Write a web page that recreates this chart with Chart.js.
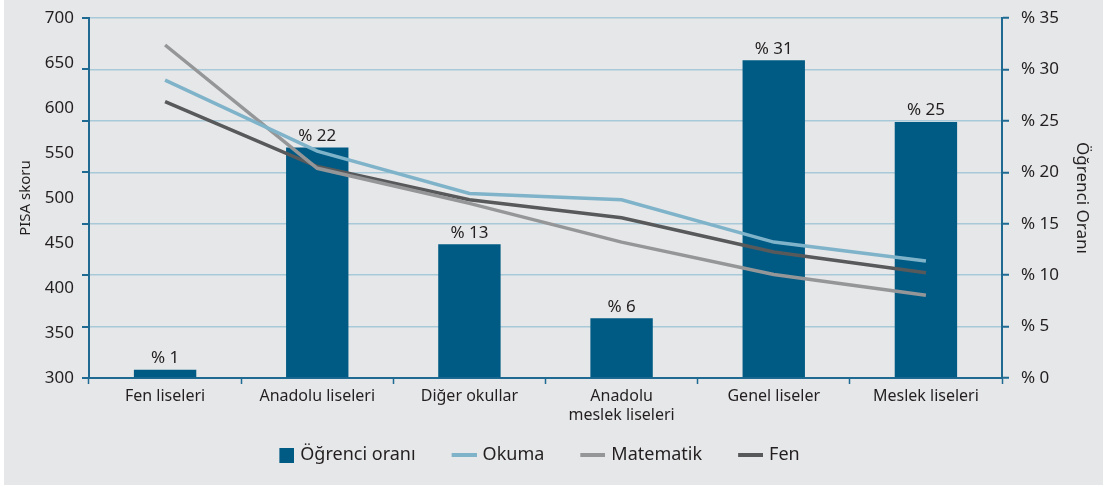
<!DOCTYPE html>
<html lang="tr">
<head>
<meta charset="UTF-8">
<title>PISA skoru ve öğrenci oranı</title>
<script src="https://cdn.jsdelivr.net/npm/chart.js"></script>
<style>
  body { margin: 0; background: #fff; }
  #kutu { position: absolute; left: 4px; top: 0; width: 1099px; height: 485px; background: #e6e7e9; }
</style>
</head>
<body>
<div id="kutu"><canvas id="pisaChart" width="1099" height="485"></canvas></div>
<script>
// okul türleri
const okulTurleri = ['Fen liseleri', 'Anadolu liseleri', 'Diğer okullar', ['Anadolu', 'meslek liseleri'], 'Genel liseler', 'Meslek liseleri'];
// öğrenci oranı (%)
const ogrenciOrani = [0.8, 22.4, 13.0, 5.8, 30.9, 24.9];
const oranEtiketleri = ['% 1', '% 22', '% 13', '% 6', '% 31', '% 25'];
// PISA skorları
const okuma = [631, 552, 505, 498, 451, 430];
const matematik = [670, 533, 494, 451, 415, 392];
const fen = [607, 535, 498, 478, 440, 417];

const eksenRengi = '#1f6a92';
const yaziRengi = '#231f20';
const yazi = 'Noto Sans';

// lejant simgesi: solu boş, sağa yaslı renkli parça
function ikon(w, h, renk) {
    const c = document.createElement('canvas');
    c.width = 46; c.height = h;
    const g = c.getContext('2d');
    g.fillStyle = renk;
    g.fillRect(46 - w, 0, w, h);
    return c;
}

// lejant yüksekliğini sabitle, biraz sola kaydır
const lejantBoyu = {
    id: 'lejantBoyu',
    beforeLayout(chart) {
        const lg = chart.legend;
        if (lg && !lg._sabit) {
            const fit = lg.fit.bind(lg);
            lg.fit = function () { fit(); this.height = 57; };
            lg._sabit = true;
        }
    },
    afterLayout(chart) {
        chart.legend.left -= 20;
        chart.legend.right -= 20;
    }
};

// sol eksende çizgi hizasında küçük çentikler
const solCentik = {
    id: 'solCentik',
    afterDraw(chart) {
        const ctx = chart.ctx, sag = chart.scales.y1, x = chart.chartArea.left;
        ctx.save();
        ctx.strokeStyle = eksenRengi;
        ctx.lineWidth = 2;
        sag.ticks.forEach(t => {
            const y = Math.round(sag.getPixelForValue(t.value));
            ctx.beginPath(); ctx.moveTo(x - 7, y); ctx.lineTo(x, y); ctx.stroke();
        });
        ctx.restore();
    }
};

// çubukların üstündeki oran yazıları
const cubukYazi = {
    id: 'cubukYazi',
    afterDatasetsDraw(chart) {
        const ctx = chart.ctx;
        const meta = chart.getDatasetMeta(0);
        ctx.save();
        ctx.font = '17px "' + yazi + '"';
        ctx.fillStyle = yaziRengi;
        ctx.textAlign = 'center';
        ctx.textBaseline = 'bottom';
        meta.data.forEach((el, i) => ctx.fillText(oranEtiketleri[i], el.x, el.y - 3));
        ctx.restore();
    }
};

new Chart(document.getElementById('pisaChart'), {
    data: {
        labels: okulTurleri,
        datasets: [
            { type: 'bar', label: 'Öğrenci oranı', data: ogrenciOrani, yAxisID: 'y1', backgroundColor: '#005b84',
              categoryPercentage: 1, barPercentage: 0.41, order: 1 },
            { type: 'line', label: 'Okuma', data: okuma, yAxisID: 'y', borderColor: '#7fb3c9', borderWidth: 3.5,
              pointRadius: 0, tension: 0, order: 0 },
            { type: 'line', label: 'Matematik', data: matematik, yAxisID: 'y', borderColor: '#959698', borderWidth: 3.5,
              pointRadius: 0, tension: 0, order: 0 },
            { type: 'line', label: 'Fen', data: fen, yAxisID: 'y', borderColor: '#58595b', borderWidth: 3.5,
              pointRadius: 0, tension: 0, order: 0 }
        ]
    },
    options: {
        responsive: false,
        animation: false,
        layout: { padding: { top: 18, left: 0, right: 0, bottom: 0 } },
        plugins: {
            tooltip: { enabled: false },
            legend: {
                position: 'bottom',
                fullSize: false,
                labels: {
                    usePointStyle: true,
                    pointStyleWidth: 40,
                    padding: 18,
                    color: yaziRengi,
                    font: { family: yazi, size: 18 },
                    generateLabels: chart => chart.data.datasets.map((ds, i) => ({
                        text: ds.label,
                        pointStyle: i === 0 ? ikon(15, 15, ds.backgroundColor) : ikon(25, 4, ds.borderColor),
                        fillStyle: 'transparent', strokeStyle: 'transparent', lineWidth: 0,
                        hidden: false, datasetIndex: i, fontColor: yaziRengi
                    }))
                }
            }
        },
        scales: {
            x: {
                grid: { display: true, drawOnChartArea: false, offset: true, tickLength: 6, tickColor: eksenRengi, tickWidth: 1.5 },
                border: { color: eksenRengi, width: 2 },
                ticks: { color: yaziRengi, font: { family: yazi, size: 16, lineHeight: 1.2 }, padding: 3, maxRotation: 0, autoSkip: false },
                afterFit: s => { s.height = 50; }
            },
            y: {
                position: 'left',
                min: 300, max: 700,
                grid: { display: false, drawTicks: true, tickLength: 7 },
                border: { color: eksenRengi, width: 2 },
                ticks: { stepSize: 50, color: yaziRengi, font: { family: yazi, size: 17, lineHeight: 0.7 }, padding: 8 },
                title: { display: true, text: 'PISA skoru', color: yaziRengi, font: { family: yazi, size: 15 }, padding: { top: 13, bottom: 0 } },
                afterFit: s => { s.width = 85; }
            },
            y1: {
                position: 'right',
                min: 0, max: 35,
                grid: { drawOnChartArea: true, color: '#a7c9d8', lineWidth: 1.5, tickLength: 7, tickColor: eksenRengi, tickWidth: 2 },
                border: { color: eksenRengi, width: 2 },
                ticks: { stepSize: 5, color: yaziRengi, font: { family: yazi, size: 17, lineHeight: 0.7 }, padding: 12, callback: v => '% ' + v },
                title: { display: true, text: 'Öğrenci Oranı', color: yaziRengi, font: { family: yazi, size: 17 }, padding: { top: 11, bottom: 0 } },
                afterFit: s => { s.width = 101; }
            }
        }
    },
    plugins: [lejantBoyu, solCentik, cubukYazi]
});
</script>
</body>
</html>
